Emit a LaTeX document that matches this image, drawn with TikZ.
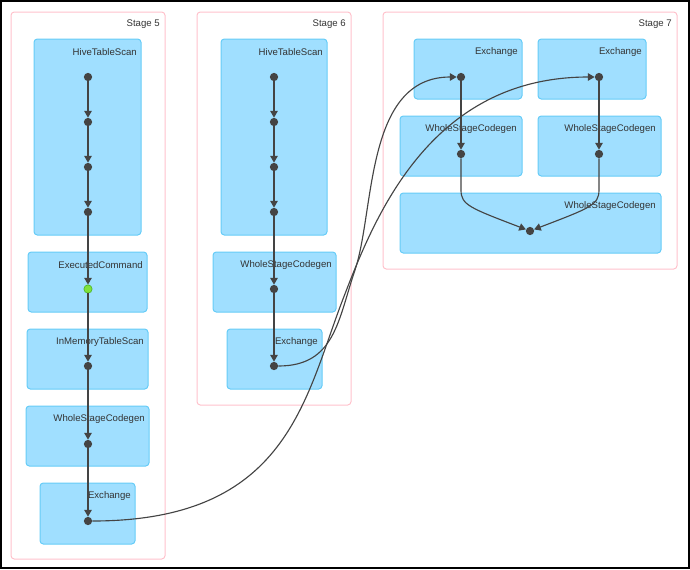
\documentclass[tikz,border=0pt]{standalone}
\usepackage{fontspec}
\setmainfont{Liberation Sans}
\usetikzlibrary{arrows.meta}
\definecolor{opfill}{HTML}{A0DFFF}
\definecolor{opline}{HTML}{66CCF7}
\definecolor{stageline}{HTML}{FFC2CC}
\definecolor{dotgray}{HTML}{444444}
\definecolor{cachedfill}{HTML}{80E23C}
\definecolor{cachedline}{HTML}{4FB82A}
\begin{document}
\begin{tikzpicture}[x=0.75pt,y=-0.75pt,>={Triangle[width=5.6pt,length=5pt]},
  stage/.style={draw=stageline,line width=0.75pt,rounded corners=2.5pt},
  op/.style={draw=opline,fill=opfill,line width=0.75pt,rounded corners=2.5pt},
  lbl/.style={anchor=east,inner sep=0pt,text=black!80,font=\fontsize{7.2}{8}\selectfont},
  dot/.style={circle,fill=dotgray,inner sep=0pt,minimum size=6.2pt},
  edge/.style={->,draw=dotgray,line width=0.85pt}]
\useasboundingbox (0,0) rectangle (690,569);
\draw[line width=1.2pt] (1,1) rectangle (689,568);

\draw[stage] (11,12) rectangle (165,559);
\draw[stage] (197,12) rectangle (351,405);
\draw[stage] (383,12) rectangle (677,269);
\node[lbl] (t5) at (160,24) {Stage 5};
\node[lbl] (t6) at (346,24) {Stage 6};
\node[lbl] (t7) at (672,24) {Stage 7};

\draw[op] (34,39) rectangle (141,235);
\draw[op] (28,252) rectangle (147,312);
\draw[op] (27,329) rectangle (148,389);
\draw[op] (26,406) rectangle (149,466);
\draw[op] (40,483) rectangle (135,544);
\node[lbl] (l5a) at (137,52) {HiveTableScan};
\node[lbl] (l5b) at (143,265) {ExecutedCommand};
\node[lbl] (l5c) at (144,342) {InMemoryTableScan};
\node[lbl] (l5d) at (145,419) {WholeStageCodegen};
\node[lbl] (l5e) at (131,496) {Exchange};

\draw[op] (221,39) rectangle (327,235);
\draw[op] (213,252) rectangle (336,312);
\draw[op] (227,329) rectangle (322,389);
\node[lbl] (l6a) at (323,52) {HiveTableScan};
\node[lbl] (l6b) at (332,265) {WholeStageCodegen};
\node[lbl] (l6c) at (318,342) {Exchange};

\draw[op] (414,39) rectangle (522,99);
\draw[op] (538,39) rectangle (646,99);
\draw[op] (400,116) rectangle (522,176);
\draw[op] (538,116) rectangle (661,176);
\draw[op] (400,193) rectangle (661,253);
\node[lbl] (l7a) at (518,52) {Exchange};
\node[lbl] (l7b) at (642,52) {Exchange};
\node[lbl] (l7c) at (517,129) {WholeStageCodegen};
\node[lbl] (l7d) at (656,129) {WholeStageCodegen};
\node[lbl] (l7e) at (656,206) {WholeStageCodegen};

\node[dot] (s5a) at (88,77) {};
\node[dot] (s5b) at (88,122) {};
\node[dot] (s5c) at (88,167) {};
\node[dot] (s5d) at (88,212) {};
\node[dot,fill=cachedfill,draw=cachedline,line width=0.5pt] (s5e) at (88,289) {};
\node[dot] (s5f) at (88,366) {};
\node[dot] (s5g) at (88,444) {};
\node[dot] (s5h) at (88,521) {};
\node[dot] (s6a) at (274,77) {};
\node[dot] (s6b) at (274,122) {};
\node[dot] (s6c) at (274,167) {};
\node[dot] (s6d) at (274,212) {};
\node[dot] (s6e) at (274,289) {};
\node[dot] (s6f) at (274,366) {};
\node[dot] (s7a) at (461,77) {};
\node[dot] (s7b) at (599,77) {};
\node[dot] (s7c) at (461,154) {};
\node[dot] (s7d) at (599,154) {};
\node[dot] (s7e) at (530,231) {};

\draw[edge] (s5a) -- (s5b);
\draw[edge] (s5b) -- (s5c);
\draw[edge] (s5c) -- (s5d);
\draw[edge] (s5d) -- (s5e);
\draw[edge] (s5e) -- (s5f);
\draw[edge] (s5f) -- (s5g);
\draw[edge] (s5g) -- (s5h);
\draw[edge] (s6a) -- (s6b);
\draw[edge] (s6b) -- (s6c);
\draw[edge] (s6c) -- (s6d);
\draw[edge] (s6d) -- (s6e);
\draw[edge] (s6e) -- (s6f);
\draw[edge] (s7a) -- (s7c);
\draw[edge] (s7b) -- (s7d);
\draw[edge] (s7c) -- ++(0,36) .. controls +(0,15) and +(-60,-23) .. (s7e);
\draw[edge] (s7d) -- ++(0,36) .. controls +(0,15) and +(60,-23) .. (s7e);
\draw[edge] (s6f) .. controls (335,366) and (338,320) .. (355,270)
  .. controls (375,210) and (365,77) .. (s7a);
\draw[edge] (s5h) .. controls (288,521) and (304.5,399) .. (343,299)
  .. controls (373.8,219) and (429,77) .. (s7b);
\end{tikzpicture}
\end{document}
